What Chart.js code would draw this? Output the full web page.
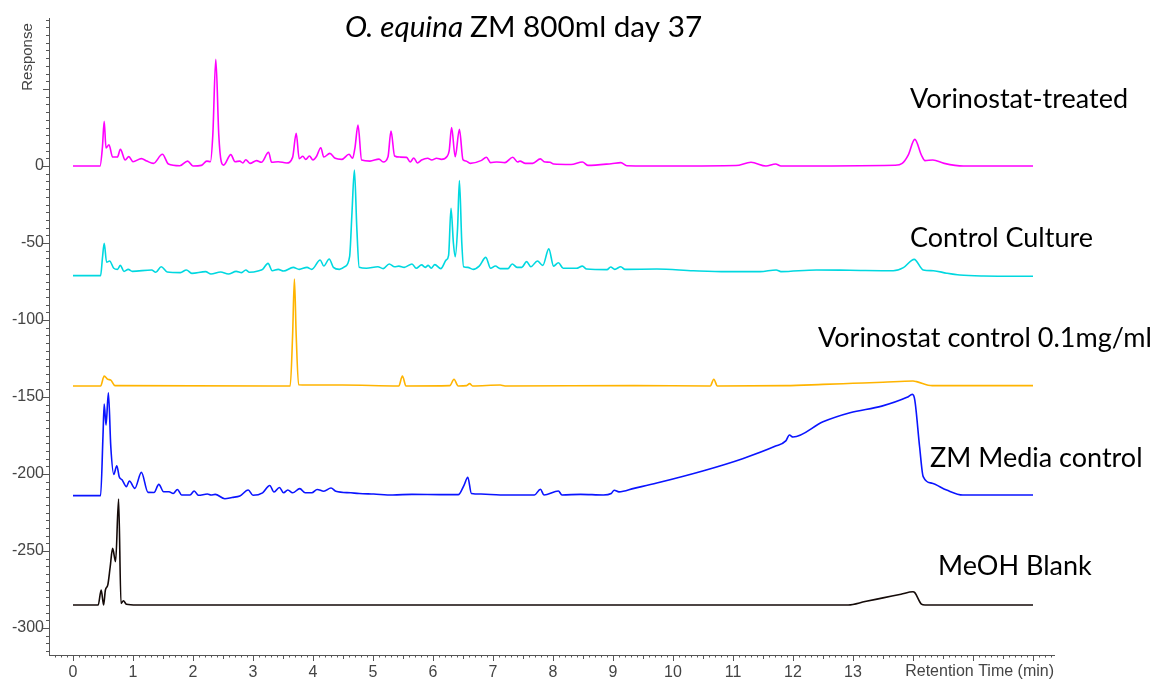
<!DOCTYPE html>
<html>
<head>
<meta charset="utf-8">
<title>O. equina ZM 800ml day 37</title>
<script src="https://cdn.jsdelivr.net/npm/chart.js@4/dist/chart.umd.min.js"></script>
<style>
  html, body { margin: 0; padding: 0; background: #fff; }
  #wrap { width: 1170px; height: 682px; }
</style>
</head>
<body>
<div id="wrap"><canvas id="chrom" width="1170" height="682"></canvas></div>
<script>
// --- Chromatogramme: [Retentionszeit (min), Response] ---
const vorinostatTreated = [
  [0, 0], [0.45, 0], [0.49, 12], [0.52, 29], [0.55, 11.7], [0.60, 13.8], [0.66, 5.8], [0.74, 5.8],
  [0.79, 10.8], [0.87, 3.9], [0.93, 6.1], [1.0, 2.8], [1.14, 4.8], [1.23, 3.2], [1.34, 1.7],
  [1.49, 7.6], [1.59, 1.3], [1.78, 0.2], [1.91, 3.2], [2.0, 0], [2.14, 0.4], [2.23, 3.2], [2.29, 2.8],
  [2.33, 20], [2.38, 69.3], [2.43, 20], [2.47, 3], [2.51, 0.6], [2.63, 7.4], [2.7, 2.8], [2.78, 3.2],
  [2.83, 2], [2.88, 4.1], [2.95, 1.7], [3.06, 3.5], [3.14, 2.4], [3.26, 8.9], [3.31, 2.4], [3.42, 2.8],
  [3.56, 2], [3.66, 5.6], [3.72, 21.2], [3.77, 4.8], [3.83, 6.3], [3.88, 4.3], [3.94, 6.5], [4.0, 3.9],
  [4.06, 6.3], [4.13, 11.9], [4.18, 5.8], [4.28, 8.2], [4.37, 5], [4.48, 4.3], [4.6, 7.6], [4.66, 5],
  [4.7, 12], [4.75, 26.6], [4.81, 3.9], [4.95, 3.2], [5.1, 4.5], [5.17, 2.6], [5.25, 6], [5.3, 22.7],
  [5.36, 6.5], [5.45, 5.8], [5.56, 5.6], [5.62, 2.6], [5.68, 5.2], [5.74, 2], [5.81, 3.9], [5.91, 5],
  [5.98, 3.9], [6.06, 5], [6.14, 4.3], [6.23, 6], [6.27, 10], [6.31, 24.9], [6.37, 6], [6.44, 23.8],
  [6.5, 4], [6.55, 3.2], [6.62, 1.7], [6.8, 3.5], [6.89, 5.7], [6.96, 2.2], [7.06, 2.6], [7.2, 2.2],
  [7.33, 5.7], [7.41, 2.6], [7.45, 3.2], [7.54, 1.7], [7.66, 1.7], [7.79, 4.6], [7.85, 2.8],
  [7.95, 2.4], [8.01, 1.3], [8.3, 1.0], [8.49, 2.6], [8.58, 0.4], [8.97, 1.5], [9.13, 2.2], [9.23, 0.2],
  [10.0, 0], [11.05, 0.3], [11.3, 2.4], [11.55, 0], [11.71, 1.3], [11.8, 0], [13.7, 0.5], [13.82, 1.7],
  [13.92, 7.1], [14.03, 17.3], [14.14, 7.1], [14.2, 3.5], [14.33, 3.9], [14.52, 1.7], [14.84, 0], [16, 0]
];

const controlCulture = [
  [0, -71.2], [0.46, -71.2], [0.49, -60], [0.52, -50.2], [0.56, -62.5], [0.61, -61.7], [0.68, -66.4],
  [0.74, -67.1], [0.79, -64.5], [0.85, -68.4], [0.92, -67.1], [0.99, -68.4], [1.31, -67.5], [1.38, -69],
  [1.47, -65.4], [1.57, -68.8], [1.79, -69.2], [1.89, -67.5], [1.98, -69.7], [2.21, -68.6], [2.3, -70.1],
  [2.46, -68.8], [2.59, -70.1], [2.72, -68.4], [2.81, -69.2], [2.88, -67.5], [2.94, -69], [3.1, -68],
  [3.16, -67.1], [3.25, -63.2], [3.32, -68], [3.42, -67.1], [3.51, -68.2], [3.67, -65.8], [3.77, -67.1],
  [3.9, -65.8], [3.98, -67.1], [4.12, -61], [4.18, -64.9], [4.27, -60.4], [4.34, -65.8], [4.44, -67.1],
  [4.53, -65.4], [4.61, -58.9], [4.65, -30], [4.69, -2.6], [4.73, -40], [4.77, -65.8], [4.89, -66.4],
  [5.08, -65.4], [5.17, -66.6], [5.27, -63.6], [5.36, -65.4], [5.43, -65], [5.52, -65.8], [5.65, -63.6],
  [5.72, -66.4], [5.81, -64.2], [5.87, -65.8], [5.92, -64.5], [5.97, -66.4], [6.03, -64], [6.13, -66.6],
  [6.22, -61], [6.26, -58], [6.3, -27.5], [6.34, -50], [6.37, -58.9], [6.41, -40], [6.44, -9.5],
  [6.48, -50], [6.51, -65.4], [6.58, -65.8], [6.67, -67.1], [6.77, -65], [6.88, -59.3], [6.96, -66.4],
  [7.04, -64.9], [7.12, -66.6], [7.25, -66.6], [7.32, -63.6], [7.4, -65.8], [7.48, -65.8], [7.56, -62.1],
  [7.63, -65.4], [7.74, -61.7], [7.83, -64.5], [7.93, -53.8], [8.01, -65], [8.09, -62.8], [8.17, -66.4],
  [8.39, -66.4], [8.49, -65], [8.56, -66.9], [8.9, -67.3], [8.96, -65.6], [9.03, -67.1], [9.13, -65.4],
  [9.2, -67.1], [9.73, -66.9], [10.34, -68], [10.89, -68.6], [11.45, -68.6], [11.72, -67.5], [11.8, -68.6],
  [12.39, -67.5], [12.95, -67.7], [13.67, -68], [13.84, -66], [14.02, -60.6], [14.17, -67.5], [14.34, -68],
  [14.56, -69.6], [14.78, -70.8], [15.17, -71.4], [16, -71.6]
];

const vorinostatStd = [
  [0, -142.8], [0.46, -142.8], [0.52, -136.4], [0.58, -138.5], [0.63, -139], [0.7, -142.6],
  [3.62, -142.8], [3.66, -110], [3.69, -73.4], [3.72, -110], [3.76, -142], [4.09, -142.2], [4.49, -142.2],
  [5.43, -142.8], [5.49, -136.4], [5.55, -142.8], [6.28, -142.6], [6.35, -138.5], [6.42, -142.8],
  [6.56, -142.6], [6.61, -141.3], [6.66, -142.8], [7.12, -142.2], [7.2, -142.8], [9.35, -142.6],
  [10.62, -142.8], [10.68, -138.5], [10.74, -142.8], [11.88, -142.6], [12.5, -141.8], [13.0, -141.1],
  [13.5, -140.4], [14.0, -139.6], [14.06, -140], [14.32, -142.6], [16, -142.6]
];

const zmMedia = [
  [0, -214], [0.46, -214], [0.5, -175], [0.52, -154.5], [0.55, -168.2], [0.59, -147.2], [0.63, -182.3],
  [0.68, -200.2], [0.73, -194.6], [0.77, -201.7], [0.82, -203.9], [0.89, -208.2], [0.94, -204.5],
  [1.03, -209.3], [1.14, -198.9], [1.25, -211.9], [1.35, -212], [1.43, -206.7], [1.51, -211.5],
  [1.6, -211.5], [1.67, -212.6], [1.74, -210], [1.81, -213.6], [1.95, -213.6], [2.02, -211], [2.09, -213.8],
  [2.24, -213], [2.3, -213.6], [2.37, -213.2], [2.53, -216], [2.65, -215.2], [2.78, -214.3], [2.92, -210.4],
  [3.0, -213.8], [3.16, -212.2], [3.28, -207.4], [3.35, -211.7], [3.44, -208.7], [3.51, -212.2],
  [3.58, -210.4], [3.66, -212.2], [3.78, -209.5], [3.87, -212.2], [3.98, -212.2], [4.07, -210],
  [4.18, -211.2], [4.3, -209.1], [4.38, -211.2], [4.63, -212.2], [4.77, -212.6], [5.01, -213],
  [5.33, -213.6], [5.65, -213.2], [6.16, -213.4], [6.42, -213.4], [6.52, -207], [6.58, -202.1],
  [6.64, -212.6], [6.8, -213], [7.12, -213.6], [7.69, -213.6], [7.79, -209.9], [7.85, -213.6],
  [8.09, -211], [8.15, -213.6], [8.46, -213.2], [8.84, -213.6], [8.97, -212.6], [9.02, -210.5],
  [9.1, -211.6], [9.35, -209.3], [9.73, -205.8], [10.51, -197.8], [11.16, -190], [11.7, -182],
  [11.88, -178.5], [11.94, -174.7], [12.0, -176], [12.5, -166.1], [12.95, -160.2], [13.48, -155.9],
  [13.9, -150.2], [13.99, -148.3], [14.03, -152], [14.11, -182.3], [14.17, -201.7], [14.32, -206],
  [14.56, -210.4], [14.83, -213.6], [16, -213.6]
];

const meohBlank = [
  [0, -285], [0.42, -285], [0.47, -275.3], [0.51, -285], [0.54, -275.3], [0.58, -272], [0.62, -260.2],
  [0.66, -248.3], [0.71, -256.9], [0.76, -216.2], [0.8, -284], [0.84, -282.3], [0.89, -284.5],
  [1.06, -285], [12.92, -285], [13.2, -282.8], [13.5, -280.4], [13.8, -278], [14.0, -276.4],
  [14.03, -277], [14.14, -284.4], [14.2, -285], [16, -285]
];

const seriesNames = ['Vorinostat-treated', 'Control Culture', 'Vorinostat control 0.1mg/ml',
                     'ZM Media control', 'MeOH Blank'];
const seriesColors = ['#ff00ff', '#00d8e0', '#ffb400', '#0a14ff', '#140a08'];
const yTickValues = [0, -50, -100, -150, -200, -250, -300];
const xTickValues = [0, 1, 2, 3, 4, 5, 6, 7, 8, 9, 10, 11, 12, 13];

// --- Datensätze aufbauen ---
const traces = [vorinostatTreated, controlCulture, vorinostatStd, zmMedia, meohBlank];
const datasets = traces.map(function (tr, i) {
    return {
        label: seriesNames[i],
        data: tr.map(p => ({ x: p[0], y: p[1] })),
        borderColor: seriesColors[i],
        borderWidth: 1.6,
        pointRadius: 0,
        cubicInterpolationMode: 'monotone',
        fill: false
    };
});

// --- Plugin: Teilstriche, Achsentitel, Beschriftungen ---
const decorPlugin = {
    id: 'decor',
    afterDraw(chart) {
        const ctx = chart.ctx;
        const xs = chart.scales.x, ys = chart.scales.y;
        const area = chart.chartArea;
        ctx.save();
        ctx.strokeStyle = '#555';
        ctx.lineWidth = 1;

        // Y-Teilstriche alle 5
        ctx.beginPath();
        for (let v = -315; v <= 95; v += 5) {
            const py = Math.round(ys.getPixelForValue(v)) + 0.5;
            const len = (v % 50 === 0) ? 6 : 3;
            ctx.moveTo(area.left, py);
            ctx.lineTo(area.left - len, py);
        }
        // X-Teilstriche alle 0.1
        for (let k = -3; k <= 163; k++) {
            const t = k / 10;
            const px = Math.round(xs.getPixelForValue(t)) + 0.5;
            const len = (k % 10 === 0) ? 6 : (k % 5 === 0 ? 4 : 2.5);
            ctx.moveTo(px, area.bottom);
            ctx.lineTo(px, area.bottom + len);
        }
        ctx.stroke();

        // Achsentitel
        ctx.fillStyle = '#444';
        ctx.font = '16px "Liberation Sans", Arial, sans-serif';
        ctx.textAlign = 'right';
        ctx.textBaseline = 'middle';
        ctx.fillText('Retention Time (min)', area.right, area.bottom + 17);

        ctx.save();
        ctx.translate(28, 57);
        ctx.rotate(-Math.PI / 2);
        ctx.textAlign = 'center';
        ctx.font = '15px "Liberation Sans", Arial, sans-serif';
        ctx.fillText('Response', 0, 0);
        ctx.restore();

        // Titel (Gattung kursiv)
        ctx.fillStyle = '#000';
        ctx.textAlign = 'left';
        ctx.textBaseline = 'alphabetic';
        ctx.font = 'italic 29.7px Lato, "Open Sans", sans-serif';
        const part1 = 'O. equina';
        ctx.fillText(part1, 345, 37);
        const w1 = ctx.measureText(part1 + ' ').width;
        ctx.font = '29.7px Lato, "Open Sans", sans-serif';
        ctx.fillText('ZM 800ml day 37', 345 + w1, 37);

        // Kurvenbeschriftungen
        const labelPos = [[910, 108], [910, 247], [818, 347], [930, 467], [938, 575]];
        ctx.font = '27px Lato, "Open Sans", sans-serif';
        for (let i = 0; i < seriesNames.length; i++) {
            ctx.fillText(seriesNames[i], labelPos[i][0], labelPos[i][1]);
        }
        ctx.restore();
    }
};

const tickFont = { family: '"Liberation Sans", Arial, sans-serif', size: 16 };

new Chart(document.getElementById('chrom').getContext('2d'), {
    type: 'line',
    data: { datasets: datasets },
    options: {
        responsive: false,
        animation: false,
        layout: { padding: { top: 18, right: 116, left: 0, bottom: 0 } },
        plugins: { legend: { display: false }, tooltip: { enabled: false } },
        scales: {
            x: {
                type: 'linear',
                min: -0.4,
                max: 16.35,
                afterBuildTicks: s => { s.ticks = xTickValues.map(v => ({ value: v })); },
                afterFit: s => { s.height = 27; },
                grid: { drawOnChartArea: false, drawTicks: false },
                border: { color: '#555', width: 1 },
                ticks: { color: '#444', font: tickFont, padding: 8, maxRotation: 0, autoSkip: false }
            },
            y: {
                type: 'linear',
                min: -317.5,
                max: 96.1,
                afterBuildTicks: s => { s.ticks = yTickValues.map(v => ({ value: v })); },
                afterFit: s => { s.width = 49; },
                grid: { drawOnChartArea: false, drawTicks: false },
                border: { color: '#555', width: 1 },
                ticks: { color: '#444', font: tickFont, padding: 5, autoSkip: false }
            }
        }
    },
    plugins: [decorPlugin]
});
</script>
</body>
</html>
